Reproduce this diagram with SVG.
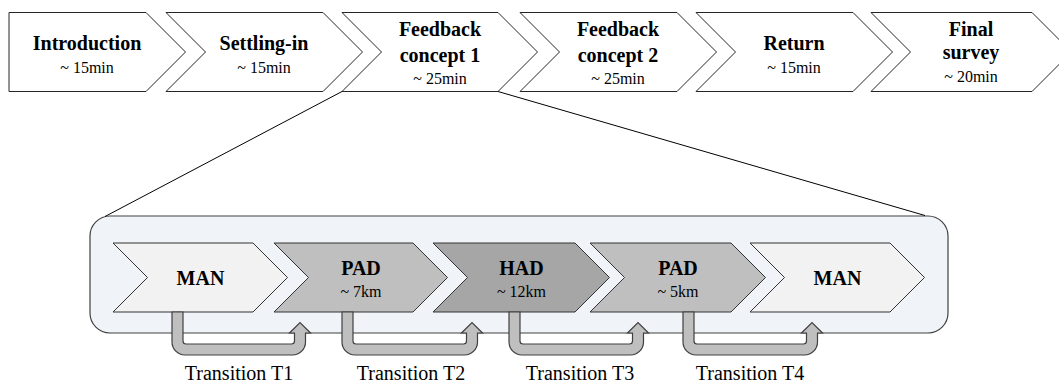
<svg xmlns="http://www.w3.org/2000/svg" width="1059" height="382" viewBox="0 0 1059 382">
  <style>
    .step { fill: #ffffff; stroke: #262626; stroke-width: 1; stroke-linejoin: miter; }
    .seg { stroke: #333333; stroke-width: 1; }
    .man { fill: #f2f2f2; }
    .pad { fill: #bfbfbf; }
    .had { fill: #a6a6a6; }
    text { font-family: 'Liberation Serif', 'Times New Roman', 'DejaVu Serif', serif; fill: #000; text-anchor: middle; }
    .title { font-weight: bold; font-size: 20px; }
    .sub { font-size: 16px; }
    .label { font-size: 20px; }
    .zoomline { stroke: #000; stroke-width: 1; fill: none; }
    .frame { fill: #f0f4f8; stroke: #404040; stroke-width: 1.2; }
    .trans { fill: #bfbfbf; stroke: #404040; stroke-width: 1.2; stroke-linejoin: miter; }
  </style>

  <!-- Top-level session timeline -->
  <g id="introduction">
    <polygon class="step" points="9,12.5 146,12.5 185.5,52 146,91.5 9,91.5"/>
    <text class="title" x="87" y="50">Introduction</text>
    <text class="sub" x="87" y="73">~ 15min</text>
  </g>
  <g id="settling-in">
    <polygon class="step" points="166,12.5 323,12.5 362.5,52 323,91.5 166,91.5 205.5,52"/>
    <text class="title" x="264" y="50">Settling-in</text>
    <text class="sub" x="264" y="73">~ 15min</text>
  </g>
  <g id="feedback-concept-1">
    <polygon class="step" points="342,12.5 498,12.5 537.5,52 498,91.5 342,91.5 381.5,52"/>
    <text class="title" x="440" y="36">Feedback</text>
    <text class="title" x="440" y="62">concept 1</text>
    <text class="sub" x="440" y="84">~ 25min</text>
  </g>
  <g id="feedback-concept-2">
    <polygon class="step" points="520,12.5 677,12.5 716.5,52 677,91.5 520,91.5 559.5,52"/>
    <text class="title" x="618" y="36">Feedback</text>
    <text class="title" x="618" y="62">concept 2</text>
    <text class="sub" x="618" y="84">~ 25min</text>
  </g>
  <g id="return">
    <polygon class="step" points="696,12.5 853,12.5 892.5,52 853,91.5 696,91.5 735.5,52"/>
    <text class="title" x="794" y="50">Return</text>
    <text class="sub" x="794" y="73">~ 15min</text>
  </g>
  <g id="final-survey">
    <polygon class="step" points="871,12.5 1032,12.5 1071.5,52 1032,91.5 871,91.5 910.5,52"/>
    <text class="title" x="971" y="36">Final</text>
    <text class="title" x="971" y="59">survey</text>
    <text class="sub" x="971" y="82">~ 20min</text>
  </g>

  <!-- Detail frame for feedback concept 1 -->
  <g id="detail-frame">
    <rect class="frame" x="90" y="216" width="858" height="117" rx="20" ry="20"/>
  </g>

  <g id="man-start">
    <polygon class="seg man" points="113,243 253,243 287.5,277.5 253,312 113,312 147.5,277.5"/>
    <text class="title" x="200.5" y="285">MAN</text>
  </g>
  <g id="pad-7km">
    <polygon class="seg pad" points="274,243 413,243 447.5,277.5 413,312 274,312 308.5,277.5"/>
    <text class="title" x="361" y="275">PAD</text>
    <text class="sub" x="361" y="297">~ 7km</text>
  </g>
  <g id="had-12km">
    <polygon class="seg had" points="433,243 575,243 609.5,277.5 575,312 433,312 467.5,277.5"/>
    <text class="title" x="521.5" y="275">HAD</text>
    <text class="sub" x="521.5" y="297">~ 12km</text>
  </g>
  <g id="pad-5km">
    <polygon class="seg pad" points="590,243 731,243 765.5,277.5 731,312 590,312 624.5,277.5"/>
    <text class="title" x="678" y="275">PAD</text>
    <text class="sub" x="678" y="297">~ 5km</text>
  </g>
  <g id="man-end">
    <polygon class="seg man" points="750,243 890,243 924.5,277.5 890,312 750,312 784.5,277.5"/>
    <text class="title" x="837.5" y="285">MAN</text>
  </g>

  <!-- Connectors: zoom lines and transition arrows -->
  <g id="connectors">
    <line class="zoomline" x1="342" y1="91.5" x2="105" y2="216.5"/>
    <line class="zoomline" x1="498" y1="91.5" x2="925" y2="215.5"/>

    <path class="trans" d="M172,312 V342 A13,13 0 0 0 185,355 H292.5 A13,13 0 0 0 305.5,342 V333 H310.5 L300,322.5 L289.5,333 H294.5 V341 A3,3 0 0 1 291.5,344 H186 A3,3 0 0 1 183,341 V312 Z"/>
    <path class="trans" d="M342,312 V342 A13,13 0 0 0 355,355 H464.5 A13,13 0 0 0 477.5,342 V333 H482.5 L472,322.5 L461.5,333 H466.5 V341 A3,3 0 0 1 463.5,344 H356 A3,3 0 0 1 353,341 V312 Z"/>
    <path class="trans" d="M509,312 V342 A13,13 0 0 0 522,355 H630.5 A13,13 0 0 0 643.5,342 V333 H648.5 L638,322.5 L627.5,333 H632.5 V341 A3,3 0 0 1 629.5,344 H523 A3,3 0 0 1 520,341 V312 Z"/>
    <path class="trans" d="M683,312 V342 A13,13 0 0 0 696,355 H804.5 A13,13 0 0 0 817.5,342 V333 H822.5 L812,322.5 L801.5,333 H806.5 V341 A3,3 0 0 1 803.5,344 H697 A3,3 0 0 1 694,341 V312 Z"/>
  </g>

  <g id="transition-labels">
    <text class="label" x="239" y="380">Transition T1</text>
    <text class="label" x="411" y="380">Transition T2</text>
    <text class="label" x="580" y="380">Transition T3</text>
    <text class="label" x="750" y="380">Transition T4</text>
  </g>
</svg>
